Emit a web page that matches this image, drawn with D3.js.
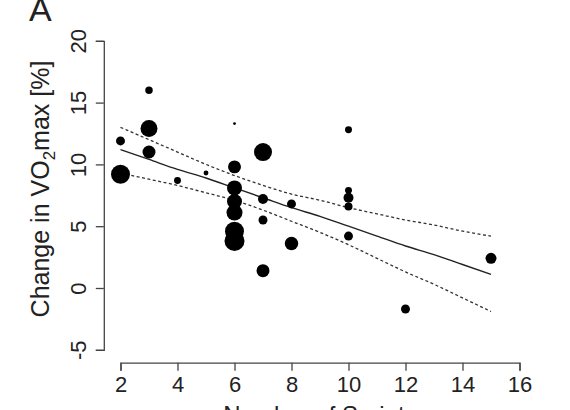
<!DOCTYPE html>
<html lang="en">
<head>
  <meta charset="UTF-8">
  <script src="https://d3js.org/d3.v7.min.js"></script>
  <style>
    body { margin: 0; background: white; }
    text { font-family: "Liberation Sans", Arial, sans-serif; fill: #222; }
  </style>
</head>
<body>
<div id="my_dataviz"></div>

<script>
  // data: number of sprints vs change in VO2max, point size = study weight
  var sprints = [2, 2, 3, 3, 3, 4, 5, 6, 6, 6, 6, 6, 6, 6, 7, 7, 7, 7, 8, 8, 10, 10, 10, 10, 10, 12, 15];
  var vo2change = [11.9, 9.2, 16.0, 12.9, 11.0, 8.7, 9.3, 13.3, 9.8, 8.1, 7.0, 6.1, 4.6, 3.8,
                   11.0, 7.2, 5.5, 1.4, 6.8, 3.6, 12.8, 7.9, 7.3, 6.6, 4.2, -1.7, 2.4];
  var weight = [20, 90, 14, 72, 42, 12, 6, 2, 42, 56, 56, 64, 90, 100,
                81, 25, 20, 42, 20, 45, 12, 12, 25, 16, 20, 20, 30];

  // regression line and 95% confidence band
  var fitX = [2, 3, 4, 5, 6, 7, 8, 9, 10, 11, 12, 13, 14, 15];
  var fitY = [11.2, 10.4, 9.6, 8.9, 8.1, 7.3, 6.5, 5.8, 5.0, 4.2, 3.4, 2.7, 1.9, 1.1];
  var upperY = [13.0, 12.0, 11.0, 10.0, 9.1, 8.3, 7.6, 7.1, 6.5, 6.0, 5.5, 5.1, 4.6, 4.2];
  var lowerY = [9.3, 8.8, 8.3, 7.7, 7.1, 6.3, 5.4, 4.5, 3.5, 2.4, 1.3, 0.3, -0.8, -1.9];

  var xTicks = [2, 4, 6, 8, 10, 12, 14, 16];
  var yTicks = [-5, 0, 5, 10, 15, 20];

  var width = 570;
  var height = 410;

  var svg = d3.select("#my_dataviz")
    .append("svg")
    .attr("width", width)
    .attr("height", height);

  var x = d3.scaleLinear().domain([2, 16]).range([120.5, 519.5]);
  var y = d3.scaleLinear().domain([-5, 20]).range([349.8, 40.8]);
  var r = d3.scaleSqrt().domain([0, 100]).range([0, 10]);

  // plain hyphen for negatives, like R does
  var plain = function(d) { return String(d); };

  // x axis (R style, detached from the plot)
  var xAxis = svg.append("g")
    .attr("transform", "translate(0,362.7)")
    .call(d3.axisBottom(x).tickValues(xTicks).tickSize(8).tickPadding(6).tickFormat(plain));
  xAxis.select(".domain").attr("stroke", "#444").attr("stroke-width", 1.3);
  xAxis.selectAll(".tick line").attr("stroke", "#444").attr("stroke-width", 1.3);
  xAxis.selectAll("text").style("font-size", "22px").attr("fill", "#222");

  // y axis, tick labels rotated
  var yAxis = svg.append("g")
    .attr("transform", "translate(103.8,0)")
    .call(d3.axisLeft(y).tickValues(yTicks).tickSize(8).tickFormat(plain));
  yAxis.select(".domain").attr("stroke", "#444").attr("stroke-width", 1.3);
  yAxis.selectAll(".tick line").attr("stroke", "#444").attr("stroke-width", 1.3);
  yAxis.selectAll(".tick text")
    .style("font-size", "22px")
    .attr("fill", "#222")
    .attr("x", null)
    .attr("dy", null)
    .attr("text-anchor", "middle")
    .attr("transform", "translate(-18,0) rotate(-90)");

  // regression and confidence lines
  var fitLine = d3.line()
    .curve(d3.curveMonotoneX)
    .x(function(d) { return x(d[0]); })
    .y(function(d) { return y(d[1]); });

  svg.append("path")
    .datum(d3.zip(fitX, upperY))
    .attr("d", fitLine)
    .attr("fill", "none")
    .attr("stroke", "#333")
    .attr("stroke-width", 1.3)
    .attr("stroke-dasharray", "3,2.5");

  svg.append("path")
    .datum(d3.zip(fitX, lowerY))
    .attr("d", fitLine)
    .attr("fill", "none")
    .attr("stroke", "#333")
    .attr("stroke-width", 1.3)
    .attr("stroke-dasharray", "3,2.5");

  svg.append("path")
    .datum(d3.zip(fitX, fitY))
    .attr("d", fitLine)
    .attr("fill", "none")
    .attr("stroke", "#222")
    .attr("stroke-width", 1.4);

  // study points
  svg.selectAll("circle")
    .data(d3.range(sprints.length))
    .enter()
    .append("circle")
      .attr("cx", function(i) { return x(sprints[i]); })
      .attr("cy", function(i) { return y(vo2change[i]); })
      .attr("r", function(i) { return r(weight[i]); })
      .attr("fill", "black");

  // axis titles
  var yLab = svg.append("text")
    .attr("transform", "translate(49,189) rotate(-90)")
    .attr("text-anchor", "middle")
    .style("font-size", "25px");
  yLab.append("tspan").text("Change in VO");
  yLab.append("tspan").attr("dy", 6).style("font-size", "17px").text("2");
  yLab.append("tspan").attr("dy", -6).text("max [%]");

  svg.append("text")
    .attr("x", 320)
    .attr("y", 423)
    .attr("text-anchor", "middle")
    .style("font-size", "24px")
    .text("Number of Sprints");

  // panel letter
  svg.append("text")
    .attr("x", 29)
    .attr("y", 21)
    .style("font-size", "34px")
    .text("A");
</script>
</body>
</html>
